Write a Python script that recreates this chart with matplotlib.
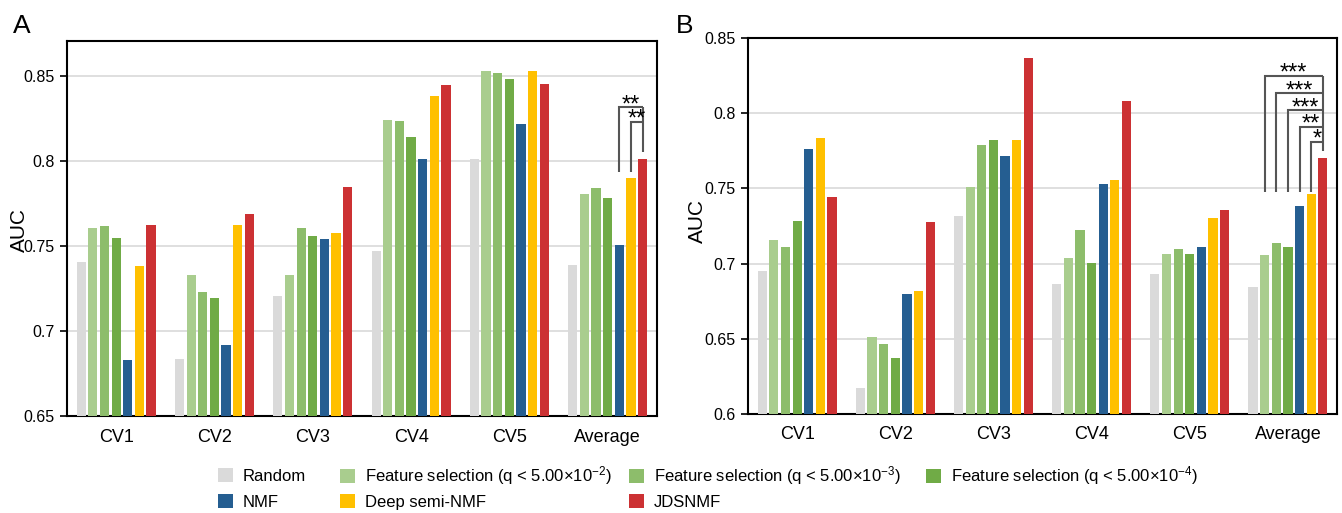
import matplotlib
matplotlib.use("Agg")
import matplotlib.pyplot as plt
from matplotlib.patches import Patch
import numpy as np

plt.rcParams['font.family'] = ['Liberation Sans', 'DejaVu Sans']
plt.rcParams['mathtext.fontset'] = 'custom'
plt.rcParams['mathtext.rm'] = 'Liberation Sans'
plt.rcParams['mathtext.it'] = 'Liberation Sans:italic'
plt.rcParams['mathtext.bf'] = 'Liberation Sans:bold'

groups = ["CV1", "CV2", "CV3", "CV4", "CV5", "Average"]
methods = ["Random",
           r"Feature selection (q < 5.00×10$^{-2}$)",
           r"Feature selection (q < 5.00×10$^{-3}$)",
           r"Feature selection (q < 5.00×10$^{-4}$)",
           "NMF", "Deep semi-NMF", "JDSNMF"]
colors = ["#dadada", "#a9cd8e", "#8dbd6b", "#70ab46", "#255e91", "#ffc000", "#cc3133"]

# Panel A values (per method, across groups)
auc_a_random = [0.7404, 0.6835, 0.7208, 0.7471, 0.8012, 0.7386]
auc_a_fs2 = [0.7604, 0.7330, 0.7330, 0.8241, 0.8526, 0.7806]
auc_a_fs3 = [0.7618, 0.7228, 0.7604, 0.8233, 0.8516, 0.7839]
auc_a_fs4 = [0.7549, 0.7194, 0.7559, 0.8141, 0.8479, 0.7784]
auc_a_nmf = [0.6828, 0.6918, 0.7541, 0.8012, 0.8216, 0.7504]
auc_a_dsnmf = [0.7380, 0.7622, 0.7577, 0.8381, 0.8529, 0.7900]
auc_a_jdsnmf = [0.7624, 0.7686, 0.7845, 0.8445, 0.8453, 0.8010]

# Panel B values
auc_b_random = [0.6953, 0.6171, 0.7314, 0.6864, 0.6933, 0.6847]
auc_b_fs2 = [0.7159, 0.6510, 0.7509, 0.7037, 0.7066, 0.7055]
auc_b_fs3 = [0.7112, 0.6468, 0.7789, 0.7221, 0.7095, 0.7137]
auc_b_fs4 = [0.7283, 0.6372, 0.7822, 0.7004, 0.7064, 0.7108]
auc_b_nmf = [0.7762, 0.6798, 0.7718, 0.7527, 0.7110, 0.7383]
auc_b_dsnmf = [0.7837, 0.6818, 0.7820, 0.7554, 0.7303, 0.7465]
auc_b_jdsnmf = [0.7441, 0.7275, 0.8369, 0.8081, 0.7356, 0.7704]

# significance brackets: (left method index, label, bracket height)
sig_a = [(4, "**", 0.8314), (5, "**", 0.8230)]
sig_a_left_bottom = 0.7934
sig_a_right_bottom = 0.8049
sig_b = [(1, "***", 0.8249), (2, "***", 0.8132), (3, "***", 0.8021),
         (4, "**", 0.7910), (5, "*", 0.7810)]
sig_b_left_bottom = 0.7474
sig_b_right_bottom = 0.7751

yticks_a = [0.65, 0.7, 0.75, 0.8, 0.85]
yticklabels_a = ["0.65", "0.7", "0.75", "0.8", "0.85"]
yticks_b = [0.6, 0.65, 0.7, 0.75, 0.8, 0.85]
yticklabels_b = ["0.6", "0.65", "0.7", "0.75", "0.8", "0.85"]

data_a = [auc_a_random, auc_a_fs2, auc_a_fs3, auc_a_fs4, auc_a_nmf, auc_a_dsnmf, auc_a_jdsnmf]
data_b = [auc_b_random, auc_b_fs2, auc_b_fs3, auc_b_fs4, auc_b_nmf, auc_b_dsnmf, auc_b_jdsnmf]

fig = plt.figure(figsize=(13.42, 5.13), dpi=100)
ax_a = fig.add_axes([0.0499, 0.189, 0.4396, 0.731])
ax_b = fig.add_axes([0.5574, 0.193, 0.4389, 0.733])

step = 0.1185
width = 0.094
x = np.arange(len(groups))


def draw(ax, data, ylim, yticks, yticklabels, sig, lb, rb):
    for i, vals in enumerate(data):
        ax.bar(x + (i - 3) * step, vals, width=width, color=colors[i],
               zorder=3, linewidth=0)
    ax.set_xlim(-0.5, len(groups) - 0.5)
    ax.set_ylim(*ylim)
    ax.set_yticks(yticks)
    ax.set_yticklabels(yticklabels, fontsize=11.5)
    ax.set_xticks(x)
    ax.set_xticklabels(groups, fontsize=13)
    ax.tick_params(axis='x', length=0, pad=9)
    ax.tick_params(axis='y', length=5, width=1.2, direction='out', pad=4)
    ax.yaxis.grid(True, color='#d9d9d9', linewidth=1.2, zorder=0)
    ax.set_axisbelow(True)
    for s in ax.spines.values():
        s.set_linewidth(1.5)
        s.set_color('black')
    # brackets on "Average" group
    g = len(groups) - 1
    xr = g + 3 * step
    top = max(h for _, _, h in sig)
    ax.plot([xr, xr], [rb, top], color='#555555', lw=1.5, zorder=4,
            solid_capstyle='butt')
    for idx, lab, h in sig:
        xl = g + (idx - 3) * step
        ax.plot([xl, xl, xr], [lb, h, h], color='#555555', lw=1.5, zorder=4,
                solid_capstyle='butt', solid_joinstyle='miter')
        ax.annotate(lab, xy=((xl + xr) / 2, h), xytext=(0, -3.0),
                    textcoords='offset points', ha='center', va='baseline',
                    fontsize=17, zorder=5)


draw(ax_a, data_a, (0.65, 0.8704), yticks_a, yticklabels_a, sig_a,
     sig_a_left_bottom, sig_a_right_bottom)
draw(ax_b, data_b, (0.6, 0.85), yticks_b, yticklabels_b, sig_b,
     sig_b_left_bottom, sig_b_right_bottom)

fig.text(19 / 1342, 1 - 230 / 513, "AUC", rotation=90, ha='center', va='center', fontsize=15)
fig.text(697 / 1342, 1 - 221 / 513, "AUC", rotation=90, ha='center', va='center', fontsize=15)
fig.text(13 / 1342, 1 - 14 / 513, "A", ha='left', va='top', fontsize=19)
fig.text(676 / 1342, 1 - 14 / 513, "B", ha='left', va='top', fontsize=19)

# legend: entries placed on a 4-column, 2-row grid
handles = [Patch(facecolor=c, edgecolor='none') for c in colors]
col_x = [218, 340, 629, 926]
row_y = [476, 502]
layout = [(0, 0, 0), (1, 0, 1), (2, 0, 2), (3, 0, 3),
          (4, 1, 0), (5, 1, 1), (6, 1, 2)]
for i, r, c in layout:
    fig.legend([handles[i]], [methods[i]],
               loc='center left', bbox_to_anchor=(col_x[c] / 1342, 1 - row_y[r] / 513),
               frameon=False, fontsize=12, handlelength=0.88, handleheight=0.88,
               handletextpad=0.6, borderpad=0, borderaxespad=0)

fig.savefig("out.png", dpi=100)
